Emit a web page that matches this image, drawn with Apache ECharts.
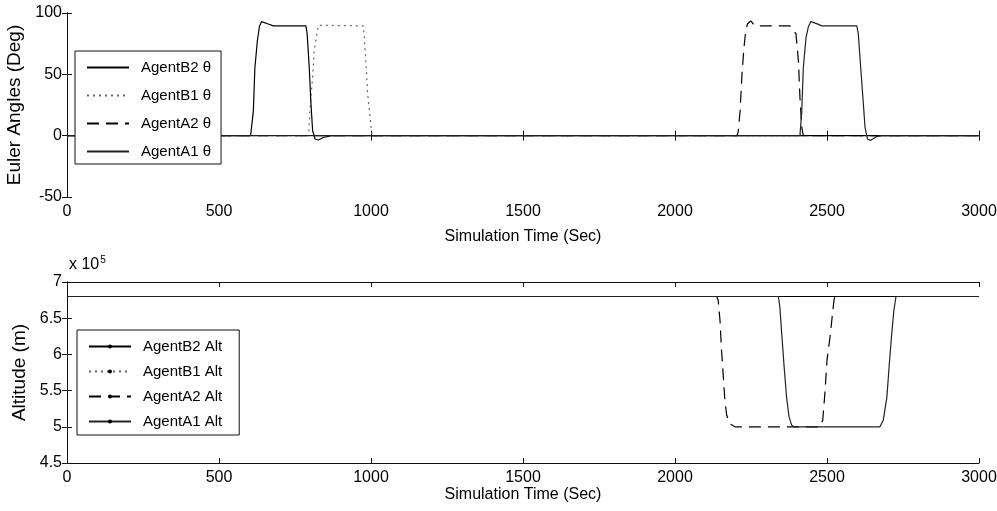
<!DOCTYPE html>
<html>
<head>
<meta charset="utf-8">
<script src="https://cdn.jsdelivr.net/npm/echarts@6/dist/echarts.min.js"></script>
<style>
  html, body { margin: 0; padding: 0; background: #fff; }
  #chart { width: 997px; height: 511px; }
</style>
</head>
<body>
<div id="chart"></div>
<script>
// time axis ticks (Sec)
const timeTicks = [0, 500, 1000, 1500, 2000, 2500, 3000]

// pitch angle θ (Deg), [time, value]
const thetaB2 = [[0, 0], [604, 0], [613, 20], [618, 55], [626, 77], [633, 89], [640, 93], [662, 91], [679, 89.5], [786, 89.5], [790, 83], [797, 55], [802, 28], [808, 4], [816, -2.7], [827, -3.5], [843, -1.5], [870, 0], [3000, 0]]
const thetaB1 = [[0, 0], [795, 0], [799, 20], [807, 45], [810, 55], [813, 69], [818, 77], [827, 90], [975, 89.5], [977, 83], [983, 61], [989, 34], [997, 15], [1002, 3], [1004, 0], [3000, 0]]
const thetaA2 = [[0, 0], [2203, 0], [2208, 3], [2214, 20], [2221, 53], [2227, 72], [2232, 84], [2238, 91], [2249, 93.5], [2263, 89.5], [2378, 89.5], [2398, 83], [2406, 61], [2411, 31], [2417, 7], [2422, 0], [3000, 0]]
const thetaA1 = [[0, 0], [2411, 0], [2417, 20], [2422, 55], [2431, 80], [2439, 89], [2447, 93], [2466, 91.3], [2483, 89.5], [2598, 89.5], [2603, 83], [2611, 55], [2619, 28], [2625, 7], [2633, -2.7], [2644, -3.8], [2661, -1], [2676, 0], [3000, 0]]

// altitude (x 10^5 m), [time, value]
const altB2 = [[0, 6.8], [3000, 6.8]]
const altB1 = [[0, 6.8], [3000, 6.8]]
const altA2 = [[0, 6.8], [2137, 6.8], [2142, 6.75], [2148, 6.47], [2153, 6.06], [2159, 5.69], [2164, 5.37], [2170, 5.16], [2181, 5.04], [2197, 5], [2477, 5], [2486, 5.09], [2493, 5.46], [2500, 5.92], [2510, 6.24], [2517, 6.52], [2523, 6.75], [2526, 6.8], [3000, 6.8]]
const altA1 = [[0, 6.8], [2340, 6.8], [2345, 6.65], [2351, 6.29], [2359, 5.83], [2367, 5.41], [2375, 5.14], [2384, 5.02], [2392, 5], [2674, 5], [2685, 5.09], [2697, 5.41], [2705, 5.87], [2713, 6.29], [2720, 6.61], [2727, 6.8], [3000, 6.8]]

const thetaNames = ['AgentB2 θ', 'AgentB1 θ', 'AgentA2 θ', 'AgentA1 θ']
const altNames = ['AgentB2 Alt', 'AgentB1 Alt', 'AgentA2 Alt', 'AgentA1 Alt']

const font = 'Liberation Sans, Arial, Helvetica, sans-serif'
const ink = '#000'
const txt = { fontSize: 16, color: '#000', fontFamily: font }

// matlab style box: ticks inside on all four sides
function timeAxes(gridIndex, nameGap) {
  const base = {
    gridIndex,
    type: 'value',
    min: timeTicks[0],
    max: timeTicks[timeTicks.length - 1],
    interval: timeTicks[1] - timeTicks[0],
    splitLine: { show: false },
    axisLine: { lineStyle: { color: '#111', width: 1 } },
    axisTick: { inside: true, length: 5, lineStyle: { color: '#111' } },
  }
  return [
    {
      ...base,
      position: 'bottom',
      name: 'Simulation Time (Sec)',
      nameLocation: 'middle',
      nameGap,
      nameTextStyle: txt,
      axisLabel: { ...txt, margin: 7, formatter: v => String(v) },
    },
    { ...base, position: 'top', axisLabel: { show: false } },
  ]
}

function valueAxes(gridIndex, min, max, interval, name, nameGap) {
  const base = {
    gridIndex,
    type: 'value',
    min, max, interval,
    splitLine: { show: false },
    axisLine: { show: true, lineStyle: { color: '#111', width: 1 } },
    axisTick: { show: true, inside: true, length: 5, lineStyle: { color: '#111' } },
  }
  return [
    {
      ...base,
      position: 'left',
      name,
      nameLocation: 'middle',
      nameGap,
      nameTextStyle: { ...txt, fontSize: 19 },
      axisLabel: { ...txt, margin: 5, formatter: v => String(v) },
    },
    { ...base, position: 'right', axisLabel: { show: false } },
  ]
}

function line(name, data, axisIndex, type, color, symbol, z) {
  return {
    name,
    type: 'line',
    xAxisIndex: axisIndex,
    yAxisIndex: axisIndex,
    data,
    z: z || 2,
    symbol: symbol || 'none',
    symbolSize: 4,
    showSymbol: false,
    silent: true,
    animation: false,
    lineStyle: { color, width: 1.2, type },
    itemStyle: { color: ink },
  }
}

const legendBase = {
  orient: 'vertical',
  itemWidth: 42,
  borderColor: '#111',
  borderWidth: 1,
  backgroundColor: '#fff',
  selectedMode: false,
  z: 10,
  textStyle: { fontSize: 15, color: '#000', fontFamily: font, padding: [0, 0, 0, 7] },
}

const chart = echarts.init(document.getElementById('chart'))
chart.setOption({
  backgroundColor: '#fff',
  animation: false,
  title: {
    left: 64,
    top: 250,
    text: '{a|x 10}{b|5}',
    textStyle: {
      rich: {
        a: { ...txt, fontWeight: 'normal' },
        b: { fontSize: 10, fontWeight: 'normal', color: '#000', fontFamily: font, padding: [0, 0, 9, 1] },
      },
    },
  },
  grid: [
    { left: 67, top: 13, width: 912, height: 184, outerBoundsMode: 'none' },
    { left: 67, top: 282, width: 912, height: 181, outerBoundsMode: 'none' },
  ],
  xAxis: [...timeAxes(0, 32), ...timeAxes(1, 23)],
  yAxis: [
    ...valueAxes(0, -50, 100, 50, 'Euler Angles (Deg)', 23),
    ...valueAxes(1, 4.5, 7, 0.5, 'Altitude (m)', 26),
  ],
  legend: [
    {
      ...legendBase,
      left: 75,
      top: 51,
      padding: [9, 10, 5, 11],
      itemHeight: 14,
      itemGap: 13,
      data: thetaNames,
      itemStyle: { color: 'rgba(0,0,0,0)', borderWidth: 0 },
    },
    {
      ...legendBase,
      left: 77,
      top: 330,
      padding: [9, 17, 6, 11],
      itemHeight: 5,
      itemGap: 10,
      data: altNames,
      itemStyle: { color: ink, borderWidth: 0 },
    },
  ],
  series: [
    line(thetaNames[0], thetaB2, 0, 'solid', ink, null, 3),
    line(thetaNames[1], thetaB1, 0, [2, 4], '#666'),
    line(thetaNames[2], thetaA2, 0, [12, 7], ink),
    line(thetaNames[3], thetaA1, 0, 'solid', '#222', null, 3),
    line(altNames[0], altB2, 2, 'solid', ink, 'circle', 3),
    line(altNames[1], altB1, 2, [2, 4], '#666', 'circle'),
    line(altNames[2], altA2, 2, [12, 7], ink, 'circle'),
    line(altNames[3], altA1, 2, 'solid', '#222', 'circle', 3),
  ],
})
</script>
</body>
</html>
